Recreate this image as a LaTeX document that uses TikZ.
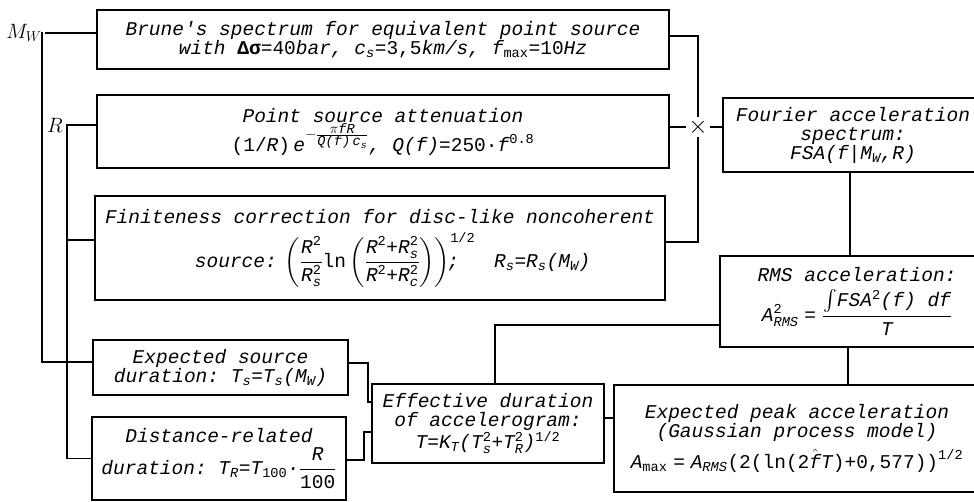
\documentclass[tikz,border=0pt]{standalone}
\usepackage{amsmath}
\usepackage{fontspec}
\setmonofont{Liberation Mono}
\newcommand{\tv}[1]{\text{\itshape #1}}
\newcommand{\tn}[1]{\text{\upshape #1}}

\begin{document}
\begin{tikzpicture}[x=1pt,y=-1pt,line width=1.8pt,
    font=\fontsize{19.5}{19}\selectfont\ttfamily\itshape,
    box/.style={draw,align=center,inner sep=2pt}]
  \useasboundingbox (0,0) rectangle (974,502);
  \clip (0,0) rectangle (974,502);
  \node[box,minimum width=572pt,minimum height=59pt] (brune) at (383,39.5) {Brune's spectrum for equivalent point source\\ with \textbf{\textup{Δσ}}\textup{=40}bar, c\textsubscript{s}\textup{=3,5}km/s, f\textsubscript{\textup{max}}\textup{=10}Hz};
  \node[box,minimum width=572pt,minimum height=73pt] (attn) at (383,131.5) {Point source attenuation\\ \textup{(1/}R\textup{)}\,$\tv{e}^{-\frac{\scriptstyle\pi\tv{fR}}{\scriptstyle\tv{Q(f)}\,\tv{c}_{\tv{s}}}}$, Q(f)=\textup{250·}f$^{\tn{0.8}}$};
  \node[box,minimum width=570pt,minimum height=104pt] (finite) at (380,248) {Finiteness correction for disc-like noncoherent\\[8pt] \hspace*{1.3em}source:\hspace{0.4em}$\left(\dfrac{\tv{R}^{\tn{2}}}{\tv{R}^{\tn{2}}_{\tv{s}}}\tn{ln}\left(\dfrac{\tv{R}^{\tn{2}}\tn{+}\tv{R}^{\tn{2}}_{\tv{s}}}{\tv{R}^{\tn{2}}\tn{+}\tv{R}^{\tn{2}}_{\tv{c}}}\right)\right)^{\tn{1/2}}$\hspace{-28pt};\hspace{1.8em}R\textsubscript{s}=R\textsubscript{s}(M\textsubscript{W})};
  \node[box,minimum width=255pt,minimum height=55pt] (srcdur) at (220.5,367.5) {Expected source\\ duration: T\textsubscript{s}=T\textsubscript{s}(M\textsubscript{W})};
  \node[box,minimum width=254pt,minimum height=83pt] (dist) at (219,458.5) {Distance-related\\[4pt] duration: T\textsubscript{R}=T\textsubscript{\textup{100}}·$\dfrac{\tv{R}}{\tn{100}}$};
  \node[box,minimum width=232pt,minimum height=79pt] (eff) at (488,423.5) {Effective duration\\ of accelerogram:\\ T=K\textsubscript{T}($\tv{T}^{\tn{2}}_{\tv{s}}$+$\tv{T}^{\tn{2}}_{\tv{R}}$)$^{\tn{1/2}}$};
  \node[box,minimum width=260pt,minimum height=74pt] (fsa) at (853,135) {Fourier acceleration\\ spectrum:\\ FSA(f|M\textsubscript{W},R)};
  \node[box,minimum width=274pt,minimum height=91pt] (rms) at (857,301.5) {RMS acceleration:\\[7pt] $\tv{A}^{\tn{2}}_{\tv{RMS}}\;\tn{=}\;\dfrac{\int\!\tv{FSA}^{\tn{2}}\tv{(f) df}}{\tv{T}}$};
  \node[box,minimum width=366pt,minimum height=107pt] (peak) at (797,438.5) {Expected peak acceleration\\ (Gaussian process model)\\[6pt] $\tv{A}_{\tn{max}}\;\tn{=}\;\tv{A}_{\tv{RMS}}\tn{(2(ln(2}\hat{\tv{f}}\tv{T}\tn{)+0,577))}^{\tn{1/2}}$};
  \node[inner sep=2pt] (mw) at (24,33) {$M_W$};
  \node[inner sep=2pt] (r) at (55,125) {$R$};
  \node[inner sep=1pt,font=\fontsize{26}{26}\selectfont] (mul) at (698,127) {$\times$};
  \coordinate (mwbus) at (42,32);
  \coordinate (rbus) at (67,125);
  \draw (mw.east) -- (mw.east -| brune.west);
  \draw (mwbus) |- ([yshift=5.5]srcdur.west);
  \draw (r.east) -- (r.east -| attn.west);
  \draw (rbus) |- (dist.west);
  \draw ([yshift=8]finite.west) -- ([yshift=8]finite.west -| rbus);
  \draw (mul.north) |- ([yshift=3.5]brune.east);
  \draw (mul.west) -- (mul.west -| attn.east);
  \draw (mul.east) -- (mul.east -| fsa.west);
  \draw (mul.south) |- ([yshift=6]finite.east);
  \draw ([yshift=4.5]srcdur.east) -- ++(19,0) |- ([yshift=21.5]eff.west);
  \draw ([yshift=-1.5]dist.east) -- ++(17,0) |- ([yshift=-8.5]eff.west);
  \draw ([xshift=7]eff.north) |- ([yshift=-23.5]rms.west);
  \draw ([yshift=5.5]eff.east) -- ([yshift=5.5]eff.east -| peak.west);
  \draw ([xshift=-3]fsa.south) -- ([xshift=-3]fsa.south |- rms.north);
  \draw ([xshift=-9]rms.south) -- ([xshift=-9]rms.south |- peak.north);
\end{tikzpicture}
\end{document}
